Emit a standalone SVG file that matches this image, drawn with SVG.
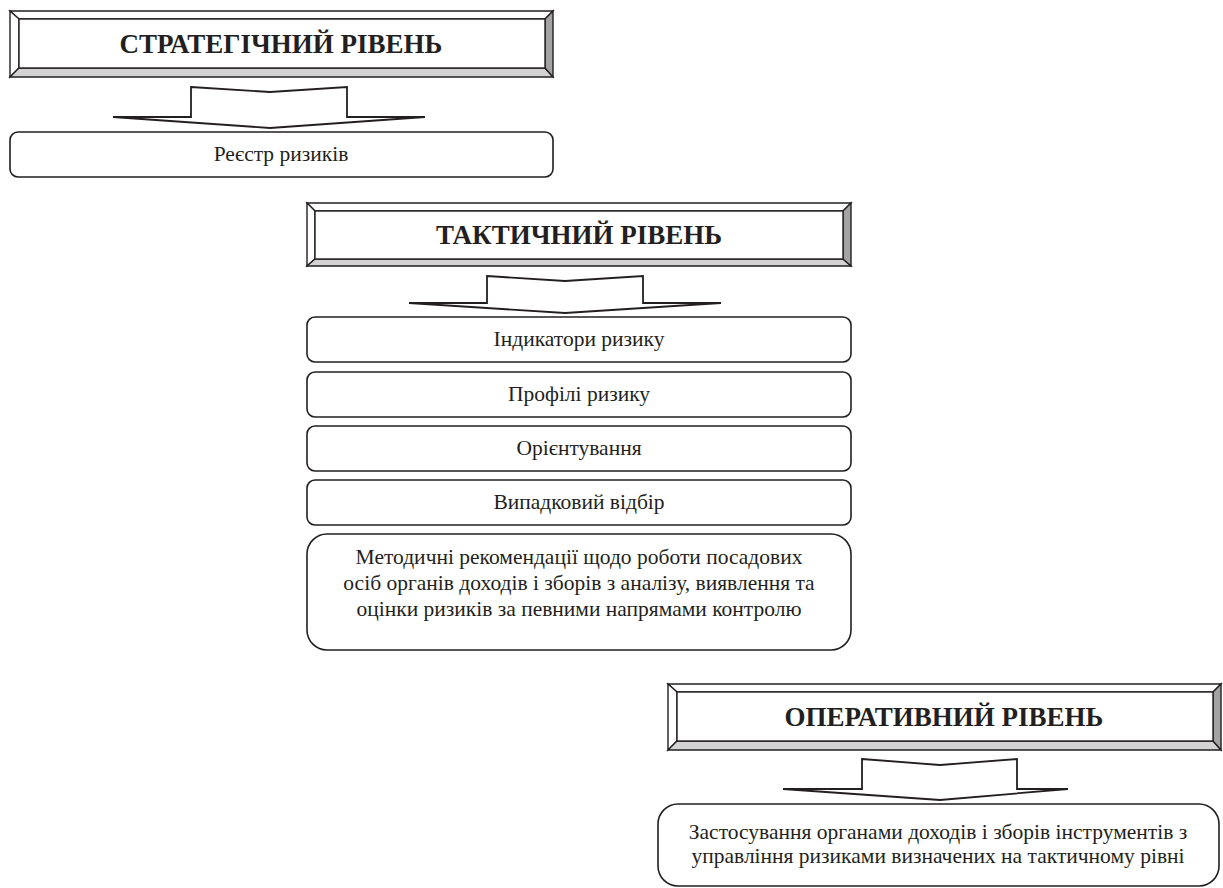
<svg xmlns="http://www.w3.org/2000/svg" width="1223" height="888" viewBox="0 0 1223 888">
<style>
.bv{stroke:#231f20;stroke-width:1.4;stroke-linejoin:miter}
.lt{fill:#ffffff}
.bt{fill:#d3d3d3}
.rt{fill:#a3a3a3}
.hd{font-family:"Liberation Serif","Times New Roman",serif;font-weight:bold;font-size:27px;fill:#231f20;text-anchor:middle}
.tx{font-family:"Liberation Serif","Times New Roman",serif;font-size:21.5px;fill:#231f20;text-anchor:middle}
.bx{fill:#ffffff;stroke:#231f20;stroke-width:1.6}
.ar{fill:#ffffff;stroke:#231f20;stroke-width:1.8;stroke-linejoin:miter}
</style>
<rect width="1223" height="888" fill="#ffffff"/>

<g id="strategic-header">
<polygon class="bv lt" points="10,11 553,11 545,19 19,19"/>
<polygon class="bv lt" points="10,11 19,19 19,68 10,77"/>
<polygon class="bv bt" points="10,77 19,68 545,68 553,77"/>
<polygon class="bv rt" points="553,11 553,77 545,68 545,19"/>
<rect class="bv" x="19" y="19" width="526" height="49" fill="#ffffff"/>
<text class="hd" x="281" y="53">СТРАТЕГІЧНИЙ РІВЕНЬ</text>
</g>

<g id="connectors">
<polygon class="ar" points="191,87 270,92 347,87 347,117 425,117 270,128 113,117 191,117"/>
<polygon class="ar" points="487,276 565,281 643,276 643,303 721,303 565,313 409,303 487,303"/>
<polygon class="ar" points="862,759 940,765 1017,759 1017,789 1068,789 940,800 783,789 862,789"/>
</g>

<g id="registry">
<rect class="bx" x="10" y="132" width="543" height="45" rx="8"/>
<text class="tx" x="281" y="161">Реєстр ризиків</text>
</g>

<g id="tactical-header">
<polygon class="bv lt" points="307,203 851,203 843,211 315,211"/>
<polygon class="bv lt" points="307,203 315,211 315,259 307,266"/>
<polygon class="bv bt" points="307,266 315,259 843,259 851,266"/>
<polygon class="bv rt" points="851,203 851,266 843,259 843,211"/>
<rect class="bv" x="315" y="211" width="528" height="48" fill="#ffffff"/>
<text class="hd" x="579" y="244">ТАКТИЧНИЙ РІВЕНЬ</text>
</g>

<g id="indicators">
<rect class="bx" x="307" y="317" width="544" height="45" rx="8"/>
<text class="tx" x="579" y="346">Індикатори ризику</text>
</g>
<g id="profiles">
<rect class="bx" x="307" y="372" width="544" height="45" rx="8"/>
<text class="tx" x="579" y="401">Профілі ризику</text>
</g>
<g id="orientation">
<rect class="bx" x="307" y="426" width="544" height="45" rx="8"/>
<text class="tx" x="579" y="455">Орієнтування</text>
</g>
<g id="random">
<rect class="bx" x="307" y="480" width="544" height="45" rx="8"/>
<text class="tx" x="579" y="509">Випадковий відбір</text>
</g>
<g id="methodical">
<rect class="bx" x="307" y="534" width="544" height="116" rx="20"/>
<text class="tx" x="579" y="564">Методичні рекомендації щодо роботи посадових</text>
<text class="tx" x="579" y="590">осіб органів доходів і зборів з аналізу, виявлення та</text>
<text class="tx" x="579" y="616">оцінки ризиків за певними напрямами контролю</text>
</g>

<g id="operative-header">
<polygon class="bv lt" points="668,684 1221,684 1213,692 677,692"/>
<polygon class="bv lt" points="668,684 677,692 677,741 668,750"/>
<polygon class="bv bt" points="668,750 677,741 1213,741 1221,750"/>
<polygon class="bv rt" points="1221,684 1221,750 1213,741 1213,692"/>
<rect class="bv" x="677" y="692" width="536" height="49" fill="#ffffff"/>
<text class="hd" x="944" y="726">ОПЕРАТИВНИЙ РІВЕНЬ</text>
</g>

<g id="application">
<rect class="bx" x="658" y="804" width="561" height="82" rx="20"/>
<text class="tx" x="938" y="839">Застосування органами доходів і зборів інструментів з</text>
<text class="tx" x="938" y="863">управління ризиками визначених на тактичному рівні</text>
</g>
</svg>
